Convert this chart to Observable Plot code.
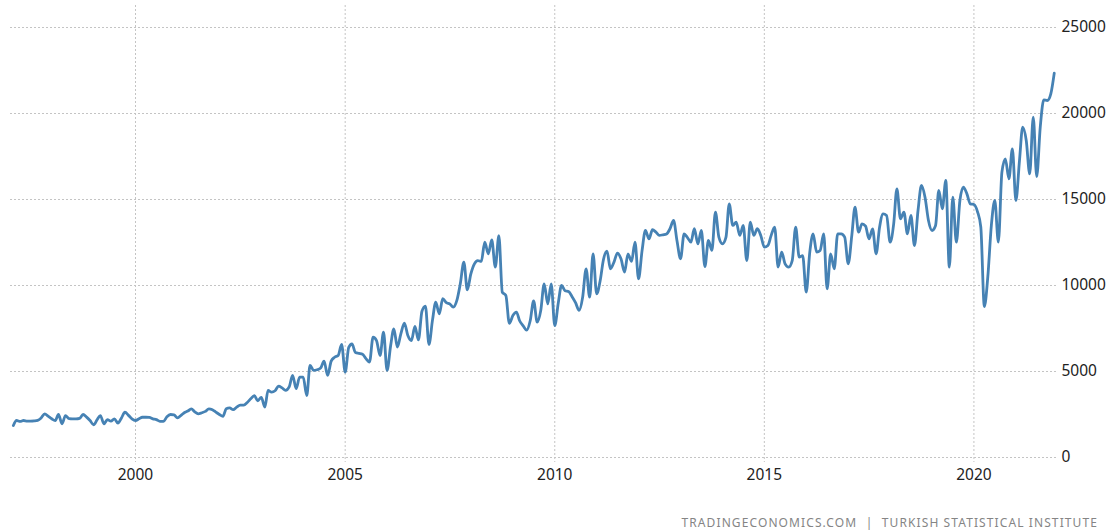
<!DOCTYPE html>
<html><head><meta charset="utf-8">
<script src="https://cdn.jsdelivr.net/npm/d3@7"></script>
<script src="https://cdn.jsdelivr.net/npm/@observablehq/plot@0.6"></script>
<style>
html,body{margin:0;padding:0;background:#fff;}
#wrap{position:relative;width:1111px;height:530px;overflow:hidden;}
#caption{position:absolute;right:13px;top:515px;font:12px "Noto Sans",sans-serif;color:#858585;letter-spacing:1.1px;white-space:pre;line-height:16px;}
</style></head><body>
<div id="wrap"><div id="chart"></div><div id="caption"></div></div>
<script>
// Monthly values (USD million), series starts Feb 1997
const firstYear = 1997, firstMonth = 1; // 0-based month index (Feb)
const v1997 = [1860, 2150, 2100, 2150, 2120, 2120, 2130, 2160, 2300, 2540, 2400];
const v1998 = [2250, 2150, 2500, 1960, 2440, 2260, 2250, 2250, 2280, 2500, 2350, 2150];
const v1999 = [1900, 2200, 2440, 1960, 2200, 2110, 2250, 2000, 2300, 2630, 2450, 2250];
const v2000 = [2150, 2250, 2340, 2340, 2330, 2250, 2200, 2100, 2100, 2370, 2500, 2480];
const v2001 = [2300, 2450, 2600, 2700, 2830, 2650, 2540, 2600, 2680, 2830, 2780, 2640];
const v2002 = [2500, 2390, 2830, 2880, 2780, 2930, 3050, 3050, 3200, 3410, 3600, 3300];
const v2003 = [3500, 2930, 3900, 3800, 3880, 4150, 4050, 3900, 4100, 4770, 4000, 4670];
const v2004 = [4670, 3600, 5350, 5060, 5100, 5200, 5600, 4770, 5600, 5830, 5930, 6570];
const v2005 = [4960, 6400, 6600, 6100, 6050, 6000, 5750, 5550, 7000, 6800, 5930, 7290];
const v2006 = [5060, 6500, 7480, 6420, 7190, 7810, 7090, 6800, 7620, 6840, 8500, 8800];
const v2007 = [6570, 8000, 9030, 8350, 9230, 9000, 8930, 8740, 9130, 10100, 11360, 9750];
const v2008 = [10680, 11260, 11450, 11400, 12520, 11840, 12650, 11070, 12900, 9610, 9420, 7800];
const v2009 = [8250, 8450, 7950, 7650, 7400, 7950, 9100, 7870, 8550, 10100, 8930, 10100];
const v2010 = [7670, 9000, 10000, 9700, 9650, 9350, 9000, 8550, 9320, 10970, 9320, 11840];
const v2011 = [9520, 10290, 11500, 12000, 10970, 11360, 11880, 11550, 10780, 11840, 11400, 12520];
const v2012 = [10390, 12040, 13200, 12710, 13240, 13100, 12910, 12950, 13000, 13300, 13780, 12600];
const v2013 = [11550, 13000, 12800, 12520, 13300, 12420, 13200, 11100, 12620, 12040, 14260, 12810];
const v2014 = [12420, 12810, 14750, 13490, 13680, 12910, 13490, 11450, 13680, 12910, 13300, 12910];
const v2015 = [12230, 12330, 12900, 13390, 11070, 11940, 11260, 11070, 11450, 13390, 11650, 11740];
const v2016 = [9610, 11940, 13000, 11940, 12040, 13000, 9810, 11840, 10970, 13000, 13000, 12810];
const v2017 = [11260, 12900, 14550, 13100, 13585, 13450, 12713, 13295, 11841, 13391, 14167, 14070];
const v2018 = [12519, 13585, 15620, 13876, 14264, 13004, 14070, 12326, 14360, 15814, 15136, 13779];
const v2019 = [13198, 13488, 15523, 14457, 16105, 11066, 15136, 12519, 14942, 15717, 15329, 14748];
const v2020 = [14709, 14300, 13400, 8779, 10500, 13500, 14942, 12519, 16589, 17364, 16202, 17946];
const v2021 = [14942, 17267, 19205, 18430, 16492, 19787, 16337, 19205, 20795, 20756, 21143, 22345];

const xTickYears = [2000, 2005, 2010, 2015, 2020];
const yTicks = [0, 5000, 10000, 15000, 20000, 25000];
const captionText = "TRADINGECONOMICS.COM  |  TURKISH STATISTICAL INSTITUTE";

const series = [v1997, v1998, v1999, v2000, v2001, v2002, v2003, v2004, v2005, v2006, v2007, v2008,
  v2009, v2010, v2011, v2012, v2013, v2014, v2015, v2016, v2017, v2018, v2019, v2020, v2021];
const data = [];
series.forEach((vals, i) => {
  const yr = firstYear + i;
  const m0 = i === 0 ? firstMonth : 0;
  vals.forEach((v, j) => data.push({date: new Date(Date.UTC(yr, m0 + j, 1)), value: v}));
});
const xTicks = xTickYears.map(y => new Date(Date.UTC(y, 0, 1)));
document.getElementById("caption").textContent = captionText;

const gridStyle = {stroke: "#c4c4c4", strokeOpacity: 1, strokeWidth: 1, strokeDasharray: "2,2"};
const chart = Plot.plot({
  width: 1111, height: 500,
  marginLeft: 10, marginRight: 53, marginTop: 5, marginBottom: 38,
  style: {fontFamily: "Noto Sans, sans-serif", fontSize: "15px", color: "#222", background: "transparent", overflow: "visible"},
  x: {type: "utc", domain: [new Date(Date.UTC(1997, 0, 7)), new Date(Date.UTC(2022, 0, 7))]},
  y: {domain: [0, 25000], range: [457, 27]},
  marks: [
    Plot.gridX(xTicks, gridStyle),
    Plot.gridY(yTicks, gridStyle),
    Plot.axisX(xTicks, {tickSize: 0, tickPadding: 6, tickFormat: d3.utcFormat("%Y"), fontSize: 15.5, label: null, fill: "#222"}),
    Plot.axisY(yTicks, {anchor: "right", tickSize: 0, tickPadding: 3, tickFormat: d3.format("d"), fontSize: 15.5, label: null, fill: "#222"}),
    Plot.lineY(data, {x: "date", y: "value", stroke: "#4682b4", strokeWidth: 2.8, curve: "monotone-x"})
  ]
});
document.getElementById("chart").appendChild(chart);
</script>
</body></html>
